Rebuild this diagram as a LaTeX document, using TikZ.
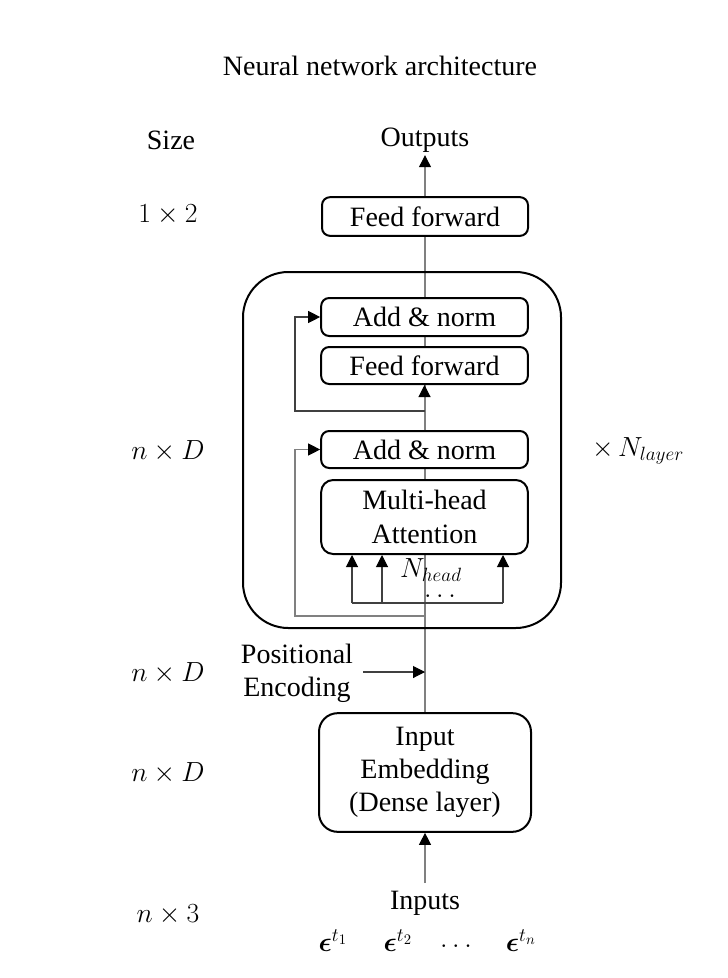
\documentclass[tikz,border=0pt]{standalone}
\usepackage{fontspec}
\setmainfont{Liberation Serif}
\usepackage{bm}
\usetikzlibrary{arrows.meta,calc}
\begin{document}
\begin{tikzpicture}[x=0.75pt,y=-0.75pt,
  every node/.style={font=\fontsize{21}{25}\selectfont},
  box/.style={draw=black,line width=1.5pt,fill=white,rounded corners=6pt,inner sep=0pt,align=center},
  lbl/.style={inner sep=0pt,align=center},
  gline/.style={draw=black!50,line width=0.8pt},
  dline/.style={draw=black!75,line width=0.8pt},
  tip/.style={-{Triangle[length=9pt,width=9pt,color=black]}}
]
\useasboundingbox (0,0) rectangle (728,978);
% main line (behind boxes)
\coordinate (mainbot) at (425,713);
\coordinate (maintop) at (425,236);
\draw[gline] (mainbot) -- (maintop);

% big repeated block
\node[box,rounded corners=34pt,fill=none,minimum width=238.5pt,minimum height=267pt] (big) at (402,450) {};

\node[box,minimum width=154.5pt,minimum height=29pt] (fftop) at (425,216.5) {Feed forward};
\node[box,minimum width=155pt,minimum height=28.5pt] (an1) at (424.5,317) {Add \& norm};
\node[box,minimum width=155pt,minimum height=27.75pt] (ff1) at (424.5,365.5) {Feed forward};
\node[box,minimum width=155pt,minimum height=27.75pt] (an2) at (424.5,449.5) {Add \& norm};
\node[box,rounded corners=9pt,minimum width=155pt,minimum height=55.5pt] (mha) at (424.5,517) {Multi-head\\[0.5pt]Attention};
\node[box,rounded corners=14pt,minimum width=159pt,minimum height=89pt] (emb) at (425,772.5) {Input\\Embedding\\(Dense layer)};

% texts
\node[lbl] (title) at (380,66) {Neural network architecture};
\node[lbl] (size) at (171,140) {Size};
\node[lbl] (outputs) at (425,140) {Outputs};
\node[lbl] (s1) at (168,215) {$1\times 2$};
\node[lbl] (s2) at (168,451) {$n\times D$};
\node[lbl] (s3) at (168,673) {$n\times D$};
\node[lbl] (s4) at (168,773) {$n\times D$};
\node[lbl] (s5) at (168,915) {$n\times 3$};
\node[lbl] (nlayer) at (638,451) {$\times\, N_{layer}$};
\node[lbl,anchor=base] (nhead) at (431,577) {$N_{head}$};
\node[lbl,anchor=base,text height=2pt,text depth=0pt] (hdots) at (440,597) {$\ldots$};
\node[lbl] (pe) at (297,673) {Positional\\Encoding};
\node[lbl] (inputs) at (425,903) {Inputs};
\node[lbl] (e1) at (333,941) {$\bm{\epsilon}^{t_1}$};
\node[lbl] (e2) at (398,941) {$\bm{\epsilon}^{t_2}$};
\node[lbl] (e3) at (456,946) {$\ldots$};
\node[lbl] (e4) at (521,941) {$\bm{\epsilon}^{t_n}$};

% output arrow
\draw[gline,tip] (fftop.north) -- ([yshift=-2pt]outputs.south);
% into feed forward
\draw[gline,tip] (an2.north) -- (ff1.south);
% residual upper
\coordinate (r1) at (425,411);
\coordinate (r1l) at (295,411);
\draw[dline,tip] (r1) -- (r1l) |- (an1.west);
% residual lower
\coordinate (r2) at (425,616);
\coordinate (r2l) at (295,616);
\draw[gline,tip] (r2) -- (r2l) |- (an2.west);
% heads
\coordinate (h1) at (352,603);
\coordinate (h2) at (382,603);
\coordinate (h3) at (503,603);
\draw[dline] (h1) -- (h3);
\draw[dline,tip] (h1) -- (h1 |- mha.south);
\draw[dline,tip] (h2) -- (h2 |- mha.south);
\draw[dline,tip] (h3) -- (h3 |- mha.south);
% positional encoding
\coordinate (pestart) at (363,672);
\draw[dline,tip] (pestart) -- (pestart -| mainbot);
% input arrow
\coordinate (inbot) at (425,883);
\draw[gline,tip] (inbot) -- (emb.south);
\end{tikzpicture}
\end{document}
